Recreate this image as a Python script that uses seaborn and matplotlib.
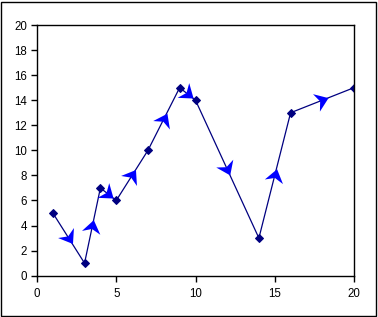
import numpy as np
import pandas as pd
import matplotlib
matplotlib.use("Agg")
import matplotlib.pyplot as plt
import seaborn as sns
from matplotlib.markers import MarkerStyle
from matplotlib.path import Path
from matplotlib.transforms import Affine2D
from matplotlib.patches import Rectangle

x_vals = [1, 3, 4, 5, 7, 9, 10, 14, 16, 20]
y_vals = [5, 1, 7, 6, 10, 15, 14, 3, 13, 15]
x_ticks = [0, 5, 10, 15, 20]
y_ticks = [0, 2, 4, 6, 8, 10, 12, 14, 16, 18, 20]

sns.set_theme(style="white")
plt.rcParams['font.family'] = ['Liberation Sans', 'DejaVu Sans']

W, H = 378, 317
fig = plt.figure(figsize=(W / 100, H / 100), dpi=100)
ax = fig.add_axes([37 / W, (H - 275.7) / H, (354 - 37) / W, (275.7 - 25) / H])

df = pd.DataFrame({"x": x_vals, "y": y_vals})
sns.lineplot(data=df, x="x", y="y", ax=ax, color="#000080", linewidth=0.9,
             marker="D", markersize=4.5, markeredgecolor="#000080",
             markerfacecolor="#000080", sort=False, estimator=None)

ax.set_xlim(0, 20)
ax.set_ylim(0, 20)
ax.set_xticks(x_ticks)
ax.set_yticks(y_ticks)
ax.grid(False)
for s in ax.spines.values():
    s.set_visible(True)
    s.set_color("black")
    s.set_linewidth(1.0)
ax.tick_params(axis="both", direction="out", length=4, width=1, color="black",
               labelsize=8.3, labelcolor="black", left=True, bottom=True, pad=3)
ax.tick_params(axis="x", pad=5)
ax.set_xlabel("")
ax.set_ylabel("")

# stealth arrowheads at segment midpoints
arrow_path = Path([(0.9, 0), (-0.9, 1.3), (-0.35, 0), (-0.9, -1.3), (0.9, 0)],
                  [Path.MOVETO, Path.LINETO, Path.LINETO, Path.LINETO, Path.CLOSEPOLY])
fig.canvas.draw()
for i in range(len(x_vals) - 1):
    x0, y0, x1, y1 = x_vals[i], y_vals[i], x_vals[i + 1], y_vals[i + 1]
    p0 = ax.transData.transform((x0, y0))
    p1 = ax.transData.transform((x1, y1))
    ang = np.degrees(np.arctan2(p1[1] - p0[1], p1[0] - p0[0]))
    m = MarkerStyle(arrow_path, transform=Affine2D().rotate_deg(ang))
    ax.plot([(x0 + x1) / 2], [(y0 + y1) / 2], marker=m, markersize=13.5,
            color="#0000FF", markeredgewidth=0, linestyle="none", zorder=5,
            clip_on=False)

fig.patches.append(Rectangle((1 / W, 1.5 / H), (W - 3) / W, (H - 3.5) / H,
                             transform=fig.transFigure, fill=False,
                             edgecolor="black", linewidth=1.0))

fig.savefig("out.png", dpi=100)
